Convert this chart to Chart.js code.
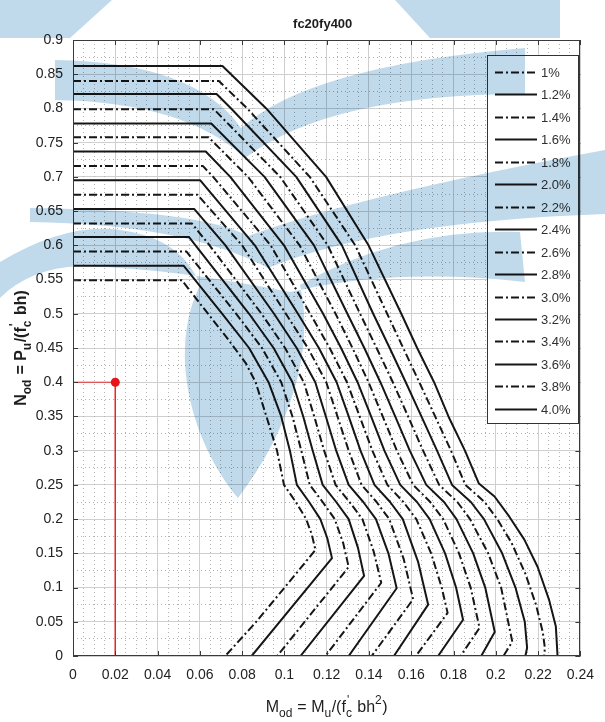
<!DOCTYPE html>
<html>
<head>
<meta charset="utf-8">
<title>fc20fy400</title>
<script src="https://cdn.jsdelivr.net/npm/chart.js@4.4.1/dist/chart.umd.min.js"></script>
<style>
  html, body { margin: 0; padding: 0; background: #ffffff; }
  #box { width: 605px; height: 722px; position: relative; }
</style>
</head>
<body>
<div id="box"><canvas id="chart" width="605" height="722"></canvas></div>
<script>
// Reinforcement ratios shown in the legend
const ratioLabels = ['1%', '1.2%', '1.4%', '1.6%', '1.8%', '2.0%', '2.2%', '2.4%',
                     '2.6%', '2.8%', '3.0%', '3.2%', '3.4%', '3.6%', '3.8%', '4.0%'];

// Axis ticks
const xTicks = [0, 0.02, 0.04, 0.06, 0.08, 0.1, 0.12, 0.14, 0.16, 0.18, 0.2, 0.22, 0.24];
const yTicks = [0, 0.05, 0.1, 0.15, 0.2, 0.25, 0.3, 0.35, 0.4, 0.45, 0.5, 0.55, 0.6, 0.65, 0.7, 0.75, 0.8, 0.85, 0.9];

// Interaction curves, [M_od, N_od] pairs
const rho10 = [[0,0.549],[0.0515,0.549],[0.0598,0.516],[0.0723,0.467],[0.0817,0.428],[0.0864,0.4],[0.0915,0.35],[0.0965,0.3],[0.0998,0.25],[0.1054,0.225],[0.1103,0.2],[0.1129,0.178],[0.1147,0.155],[0.1021,0.1075],[0.0864,0.049],[0.072,0]];
const rho12 = [[0,0.57],[0.0524,0.57],[0.0706,0.5],[0.0833,0.45],[0.0925,0.4],[0.0985,0.35],[0.1026,0.3],[0.1059,0.25],[0.1117,0.225],[0.117,0.2],[0.1203,0.172],[0.1225,0.143],[0.0845,0]];
const rho14 = [[0,0.591],[0.0536,0.591],[0.0772,0.5],[0.0894,0.45],[0.0985,0.4],[0.1038,0.35],[0.108,0.3],[0.112,0.25],[0.1181,0.225],[0.1238,0.2],[0.1278,0.165],[0.1304,0.13],[0.0966,0]];
const rho16 = [[0,0.612],[0.0549,0.612],[0.0833,0.5],[0.0949,0.45],[0.1038,0.4],[0.1089,0.35],[0.1134,0.3],[0.1181,0.25],[0.1245,0.225],[0.1304,0.2],[0.1348,0.158],[0.1377,0.117],[0.1076,0]];
const rho18 = [[0,0.632],[0.0562,0.632],[0.0646,0.6],[0.0892,0.5],[0.1003,0.45],[0.1092,0.4],[0.1141,0.35],[0.1188,0.3],[0.1242,0.25],[0.1308,0.225],[0.1369,0.2],[0.1422,0.153],[0.1458,0.107],[0.1194,0]];
const rho20 = [[0,0.653],[0.0574,0.653],[0.0721,0.6],[0.0951,0.5],[0.1058,0.45],[0.1146,0.4],[0.1196,0.35],[0.1245,0.3],[0.1304,0.25],[0.1373,0.225],[0.1433,0.2],[0.1492,0.15],[0.1531,0.099],[0.1304,0]];
const rho22 = [[0,0.674],[0.0589,0.674],[0.08,0.6],[0.1007,0.5],[0.1111,0.45],[0.1198,0.4],[0.1251,0.35],[0.1304,0.3],[0.1365,0.25],[0.1436,0.225],[0.1496,0.2],[0.1564,0.142],[0.1609,0.083],[0.1413,0]];
const rho24 = [[0,0.695],[0.0602,0.695],[0.086,0.6],[0.1064,0.5],[0.1163,0.45],[0.1247,0.4],[0.1304,0.35],[0.136,0.3],[0.1426,0.25],[0.15,0.225],[0.156,0.2],[0.1632,0.138],[0.168,0.075],[0.1518,0]];
const rho26 = [[0,0.716],[0.0614,0.716],[0.0663,0.7],[0.0935,0.6],[0.1122,0.5],[0.1214,0.45],[0.1296,0.4],[0.1356,0.35],[0.1416,0.3],[0.1487,0.25],[0.1563,0.225],[0.1624,0.2],[0.1694,0.15],[0.1744,0.1],[0.1772,0.063],[0.1622,0]];
const rho28 = [[0,0.737],[0.0628,0.737],[0.0744,0.7],[0.0998,0.6],[0.1183,0.5],[0.1268,0.45],[0.1346,0.4],[0.141,0.35],[0.1473,0.3],[0.1548,0.25],[0.1627,0.225],[0.1687,0.2],[0.176,0.15],[0.1812,0.1],[0.1845,0.053],[0.1727,0]];
const rho30 = [[0,0.758],[0.0641,0.758],[0.0828,0.7],[0.1072,0.6],[0.1242,0.5],[0.1322,0.45],[0.1398,0.4],[0.1465,0.35],[0.1532,0.3],[0.1609,0.25],[0.169,0.225],[0.1751,0.2],[0.1826,0.15],[0.1881,0.1],[0.1923,0.041],[0.1833,0]];
const rho32 = [[0,0.778],[0.0654,0.778],[0.0906,0.7],[0.114,0.6],[0.1298,0.5],[0.1378,0.45],[0.1454,0.4],[0.1524,0.35],[0.1593,0.3],[0.1671,0.25],[0.1755,0.225],[0.1814,0.2],[0.1893,0.15],[0.195,0.1],[0.1995,0.035],[0.1931,0]];
const rho34 = [[0,0.799],[0.0666,0.799],[0.098,0.7],[0.1205,0.6],[0.1358,0.5],[0.1436,0.45],[0.1513,0.4],[0.1585,0.35],[0.1656,0.3],[0.1732,0.25],[0.1818,0.225],[0.1878,0.2],[0.1964,0.15],[0.2025,0.1],[0.2078,0.021],[0.2036,0]];
const rho36 = [[0,0.821],[0.0679,0.821],[0.0748,0.8],[0.1056,0.7],[0.1272,0.6],[0.142,0.5],[0.1498,0.45],[0.1574,0.4],[0.1648,0.35],[0.1722,0.3],[0.1793,0.25],[0.1882,0.225],[0.1944,0.2],[0.203,0.15],[0.2093,0.1],[0.2137,0.05],[0.2148,0.012],[0.214,0]];
const rho38 = [[0,0.84],[0.069,0.84],[0.0824,0.8],[0.112,0.7],[0.1335,0.6],[0.1486,0.5],[0.1562,0.45],[0.1638,0.4],[0.1713,0.35],[0.1788,0.3],[0.1856,0.25],[0.1947,0.225],[0.2007,0.2],[0.2075,0.165],[0.214,0.12],[0.219,0.075],[0.2222,0.035],[0.2232,0.012],[0.2229,0]];
const rho40 = [[0,0.862],[0.0707,0.862],[0.0914,0.8],[0.1197,0.7],[0.1398,0.6],[0.1553,0.5],[0.1628,0.45],[0.1708,0.4],[0.1776,0.35],[0.1854,0.3],[0.192,0.252],[0.1994,0.233],[0.2064,0.2035],[0.2135,0.17],[0.2198,0.13],[0.2252,0.082],[0.2284,0.043],[0.2292,0]];

// Design point
const designPoint = [0.02, 0.4];

const curves = [rho10, rho12, rho14, rho16, rho18, rho20, rho22, rho24,
                rho26, rho28, rho30, rho32, rho34, rho36, rho38, rho40];

const INK = '#161616';
const DASH_DOT = [8, 3, 2, 3];
const FONT = "'Liberation Sans', Arial, Helvetica, sans-serif";

const curveSets = curves.map((pts, i) => ({
  label: ratioLabels[i],
  data: pts,
  showLine: true,
  borderColor: INK,
  backgroundColor: INK,
  borderWidth: 2,
  borderDash: i % 2 === 0 ? DASH_DOT : [],
  borderJoinStyle: 'round',
  pointRadius: 0,
  pointHoverRadius: 0,
  tension: 0,
  fill: false
}));

const guideSet = {
  label: 'design',
  data: [[0, designPoint[1]], designPoint, [designPoint[0], 0]],
  showLine: true,
  borderColor: '#e8262b',
  backgroundColor: '#e8141c',
  borderWidth: 1,
  pointRadius: ctx => (ctx.dataIndex === 1 ? 4.5 : 0),
  pointBorderWidth: 0,
  tension: 0,
  fill: false
};

const isMultiple = (v, step) => Math.abs(v / step - Math.round(v / step)) < 1e-6;
const fmt = v => String(+v.toFixed(3));

// Rich text with sub/superscripts
function drawRich(ctx, parts, cx, baseY, big, small) {
  const widths = parts.map(p => {
    if (p.k === 'n') { ctx.font = big; return ctx.measureText(p.t).width; }
    ctx.font = small;
    if (p.k === 'ss') return Math.max(ctx.measureText(p.t[0]).width, ctx.measureText(p.t[1]).width) + 1;
    return ctx.measureText(p.t).width + 0.5;
  });
  const total = widths.reduce((a, b) => a + b, 0);
  let x = cx - total / 2;
  ctx.textAlign = 'left';
  ctx.textBaseline = 'alphabetic';
  parts.forEach((p, i) => {
    if (p.k === 'n') { ctx.font = big; ctx.fillText(p.t, x, baseY); }
    else if (p.k === 'sub') { ctx.font = small; ctx.fillText(p.t, x, baseY + 5); }
    else if (p.k === 'sup') { ctx.font = small; ctx.fillText(p.t, x, baseY - 8); }
    else { ctx.font = small; ctx.fillText(p.t[0], x + 1, baseY - 8); ctx.fillText(p.t[1], x, baseY + 5); }
    x += widths[i];
  });
}

const xTitle = [
  {k: 'n', t: 'M'}, {k: 'sub', t: 'od'}, {k: 'n', t: ' = M'}, {k: 'sub', t: 'u'},
  {k: 'n', t: '/(f'}, {k: 'ss', t: ["'", 'c']}, {k: 'n', t: ' bh'}, {k: 'sup', t: '2'}, {k: 'n', t: ')'}
];
const yTitle = [
  {k: 'n', t: 'N'}, {k: 'sub', t: 'od'}, {k: 'n', t: ' = P'}, {k: 'sub', t: 'u'},
  {k: 'n', t: '/(f'}, {k: 'ss', t: ["'", 'c']}, {k: 'n', t: ' bh)'}
];

// Faint emblem printed behind the figure
function drawEmblem(ctx) {
  ctx.save();
  ctx.globalCompositeOperation = 'multiply';
  ctx.fillStyle = 'rgb(192,218,235)';
  // crown above the frame
  ctx.beginPath();
  ctx.moveTo(0, 0); ctx.lineTo(112, 0); ctx.lineTo(70, 38); ctx.lineTo(0, 38);
  ctx.closePath(); ctx.fill();
  ctx.beginPath();
  ctx.moveTo(395, 0); ctx.lineTo(560, 0); ctx.lineTo(560, 38); ctx.lineTo(430, 38);
  ctx.closePath(); ctx.fill();
  // upper chevron
  ctx.beginPath();
  ctx.moveTo(55, 60);
  ctx.quadraticCurveTo(195, 62, 241, 128);
  ctx.quadraticCurveTo(310, 66, 525, 48);
  ctx.lineTo(525, 94);
  ctx.quadraticCurveTo(330, 94, 245, 158);
  ctx.quadraticCurveTo(185, 102, 55, 100);
  ctx.closePath();
  ctx.fill();
  // upper arc
  ctx.beginPath();
  ctx.moveTo(30, 208);
  ctx.quadraticCurveTo(200, 210, 248, 236);
  ctx.quadraticCurveTo(360, 195, 605, 150);
  ctx.lineTo(605, 214);
  ctx.quadraticCurveTo(380, 222, 268, 268);
  ctx.quadraticCurveTo(185, 224, 30, 222);
  ctx.closePath();
  ctx.fill();
  // lower arc with the drop
  ctx.beginPath();
  ctx.moveTo(0, 262);
  ctx.quadraticCurveTo(60, 226, 110, 229);
  ctx.quadraticCurveTo(180, 234, 200, 285);
  ctx.bezierCurveTo(168, 350, 190, 440, 238, 498);
  ctx.bezierCurveTo(290, 430, 315, 350, 300, 285);
  ctx.quadraticCurveTo(400, 228, 520, 232);
  ctx.lineTo(525, 282);
  ctx.quadraticCurveTo(400, 268, 300, 290);
  ctx.lineTo(290, 292);
  ctx.quadraticCurveTo(170, 268, 80, 266);
  ctx.quadraticCurveTo(30, 268, 0, 298);
  ctx.closePath();
  ctx.fill();
  ctx.restore();
}

const decor = {
  id: 'decor',
  afterDraw(chart) {
    const ctx = chart.ctx;
    const a = chart.chartArea;
    const xs = chart.scales.x, ys = chart.scales.y;
    ctx.save();

    // frame
    ctx.strokeStyle = '#3a3a3a';
    ctx.lineWidth = 1;
    ctx.strokeRect(Math.round(a.left) + 0.5, Math.round(a.top) + 0.5,
                   Math.round(a.right - a.left) - 1, Math.round(a.bottom - a.top) - 1);

    // inward tick marks
    ctx.beginPath();
    xTicks.forEach(v => {
      const px = Math.round(xs.getPixelForValue(v)) + 0.5;
      ctx.moveTo(px, a.bottom); ctx.lineTo(px, a.bottom - 5);
      ctx.moveTo(px, a.top); ctx.lineTo(px, a.top + 5);
    });
    yTicks.forEach(v => {
      const py = Math.round(ys.getPixelForValue(v)) + 0.5;
      ctx.moveTo(a.left, py); ctx.lineTo(a.left + 5, py);
      ctx.moveTo(a.right, py); ctx.lineTo(a.right - 5, py);
    });
    ctx.stroke();

    // legend
    const lx = 487.5, ly = 55.5, lw = 91, lh = 368;
    ctx.fillStyle = '#ffffff';
    ctx.fillRect(lx, ly, lw, lh);
    ctx.strokeStyle = '#333333';
    ctx.strokeRect(lx, ly, lw, lh);
    chart.data.datasets.slice(0, curves.length).forEach((ds, i) => {
      const y = Math.round(72 + i * 22.45) + 0.5;
      ctx.beginPath();
      ctx.setLineDash(ds.borderDash);
      ctx.lineWidth = 2.2;
      ctx.strokeStyle = ds.borderColor;
      ctx.moveTo(495, y); ctx.lineTo(537, y);
      ctx.stroke();
      ctx.setLineDash([]);
      ctx.fillStyle = '#303030';
      ctx.font = '13px ' + FONT;
      ctx.textAlign = 'left';
      ctx.textBaseline = 'middle';
      ctx.fillText(ds.label, 541, y + 0.5);
    });

    // chart title
    ctx.fillStyle = '#1e1e1e';
    ctx.font = 'bold 13px ' + FONT;
    ctx.textAlign = 'center';
    ctx.textBaseline = 'alphabetic';
    ctx.fillText('fc20fy400', (a.left + a.right) / 2 - 4, 28);

    // axis titles
    ctx.fillStyle = '#1e1e1e';
    drawRich(ctx, xTitle, (a.left + a.right) / 2, 712, '16px ' + FONT, '12px ' + FONT);
    ctx.save();
    ctx.translate(26, (a.top + a.bottom) / 2);
    ctx.rotate(-Math.PI / 2);
    drawRich(ctx, yTitle, 0, 0, 'bold 16px ' + FONT, 'bold 12px ' + FONT);
    ctx.restore();

    drawEmblem(ctx);
    ctx.restore();
  }
};

const minorGrid = (major) => ({
  color: c => (c.tick && isMultiple(c.tick.value, major)) ? 'rgba(0,0,0,0)' : '#b2b2b2',
  lineWidth: 1,
  drawTicks: false
});

new Chart(document.getElementById('chart'), {
  type: 'scatter',
  data: { datasets: [...curveSets, guideSet] },
  plugins: [decor],
  options: {
    responsive: false,
    animation: false,
    devicePixelRatio: 1,
    layout: { padding: { top: 40, right: 22, bottom: 0, left: 0 } },
    plugins: { legend: { display: false }, tooltip: { enabled: false }, title: { display: false } },
    scales: {
      x: {
        type: 'linear', min: 0, max: 0.24, position: 'bottom',
        afterBuildTicks: s => { s.ticks = xTicks.map(v => ({ value: v })); },
        afterFit: s => { s.height = 66; },
        ticks: { autoSkip: false, maxRotation: 0, padding: 11, color: '#222', font: { family: FONT, size: 14 }, callback: v => fmt(v) },
        grid: { color: '#cfcfcf', lineWidth: 1, drawTicks: false },
        border: { display: false }
      },
      y: {
        type: 'linear', min: 0, max: 0.9, position: 'left',
        afterBuildTicks: s => { s.ticks = yTicks.map(v => ({ value: v })); },
        afterFit: s => { s.width = 73; },
        ticks: { autoSkip: false, padding: 10, color: '#222', font: { family: FONT, size: 14 }, callback: v => fmt(v) },
        grid: { color: '#cfcfcf', lineWidth: 1, drawTicks: false },
        border: { display: false }
      },
      x2: {
        type: 'linear', min: 0, max: 0.24, position: 'bottom',
        afterBuildTicks: s => {
          const t = [];
          for (let k = 1; k < 48; k++) t.push({ value: +(k * 0.005).toFixed(3) });
          s.ticks = t;
        },
        afterFit: s => { s.height = 0; },
        ticks: { display: false },
        grid: minorGrid(0.02),
        border: { display: false, dash: [1, 3] }
      },
      y2: {
        type: 'linear', min: 0, max: 0.9, position: 'left',
        afterBuildTicks: s => {
          const t = [];
          for (let k = 1; k < 36; k++) t.push({ value: +(k * 0.025).toFixed(3) });
          s.ticks = t;
        },
        afterFit: s => { s.width = 0; },
        ticks: { display: false },
        grid: minorGrid(0.05),
        border: { display: false, dash: [1, 3] }
      }
    }
  }
});
</script>
</body>
</html>
